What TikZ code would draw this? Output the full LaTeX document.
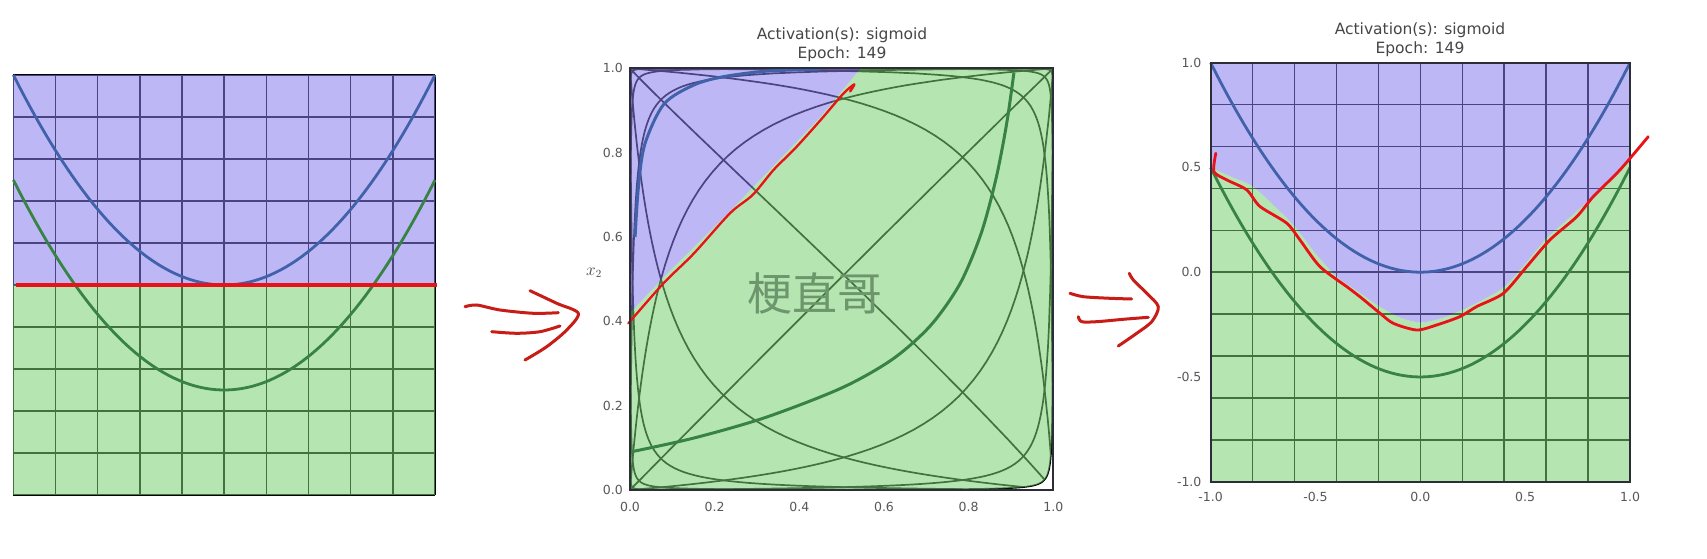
\documentclass[tikz,border=0pt]{standalone}
\usepackage{fontspec}
\setmainfont{DejaVu Sans}
\newfontfamily\cjk{Noto Sans CJK SC}
\definecolor{purp}{RGB}{136,127,237}
\definecolor{grn}{RGB}{122,210,115}
\definecolor{bluec}{RGB}{65,98,170}
\definecolor{grnc}{RGB}{55,130,68}
\definecolor{redl}{RGB}{232,18,24}
\definecolor{arrred}{RGB}{200,28,22}
\definecolor{txt}{RGB}{70,70,70}
\definecolor{wm}{RGB}{110,150,108}
\definecolor{frm}{RGB}{45,45,55}
\begin{document}
\begin{tikzpicture}[x=1pt,y=1pt,
  declare function={sg(\z)=1/(1+exp(-max(-9,min(9,\z))));
    ha(\p,\q)=sg(-2.54+6.4*\p-6.4*\q);
    hb(\p,\q)=sg(2.52+6.4*\p+6.2*\q);},
  gridl/.style={black,line width=1.5pt},
  warp/.style={black,line width=1.7pt},
  pfill/.style={fill=purp,fill opacity=.55},
  gfill/.style={fill=grn,fill opacity=.55},
  bcurve/.style={bluec,line width=2.8pt},
  gcurve/.style={grnc,line width=2.8pt},
  redpen/.style={redl,line width=2.8pt,line cap=round,line join=round},
  arrpen/.style={arrred,line width=3pt,line cap=round,line join=round},
  frame/.style={frm,line width=2.2pt},
  ttl/.style={text=txt,font=\fontsize{15.5}{16}\selectfont,inner sep=0pt},
  tick/.style={text=txt!90,font=\fontsize{12.5}{13}\selectfont,inner sep=0pt}]
\fill[white] (0,0) rectangle (1707,559);
\useasboundingbox (0,0) rectangle (1707,559);

% ---------------- panel 1 ----------------
\begin{scope}[shift={(224.2,274)},xscale=210.8,yscale=210]
  \foreach \k in {-1,-0.8,-0.6,-0.4,-0.2,0,0.2,0.4,0.6,0.8,1} {
    \draw[gridl] (\k,-1) -- (\k,1);
    \draw[gridl] (-1,\k) -- (1,\k);
  }
  \fill[pfill] (-1,0) rectangle (1,1);
  \fill[gfill] (-1,-1) rectangle (1,0);
  \draw[bcurve] plot[domain=-1:1,samples=80] (\x,{\x*\x});
  \draw[gcurve] plot[domain=-1:1,samples=80] (\x,{\x*\x-0.5});
  \draw[redl,line width=4.5pt] (-0.99,0) -- (1.01,0);
\end{scope}

% ---------------- arrow 1 ----------------
\draw[arrpen] plot[smooth] coordinates {(465,252.3) (476.7,254) (500,249) (533.3,245.7) (558.3,246.3)};
\draw[arrpen] plot[smooth] coordinates {(491.7,227.3) (516.7,225.7) (540,227.3) (560,233)};
\draw[arrpen] plot[smooth] coordinates {(530,268.3) (556.7,255.7) (578.3,245.7) (566.7,229) (546.7,212.3) (525,199)};

% ---------------- panel 2 ----------------
\node[ttl] (t2a) at (842,524) {Activation(s): sigmoid};
\node[ttl] (t2b) at (842,504.7) {Epoch: 149};
\begin{scope}[shift={(630,69)},xscale=423.3,yscale=421.7]
  \begin{scope}
    \clip (0,0) rectangle (1,1);
    \foreach \c in {-1,-0.8,-0.6,-0.4,-0.2,0,0.2,0.4,0.6,0.8,1} {
      \draw[warp] plot[domain=-1:1,samples=120,variable=\t] ({ha(\c,\t)},{hb(\c,\t)});
      \draw[warp] plot[domain=-1:1,samples=120,variable=\t] ({ha(\t,\c)},{hb(\t,\c)});
    }
  \end{scope}
  \fill[pfill] (0,0.42) -- (0.08,0.505) -- (0.24,0.665) -- (0.34,0.77) -- (0.45,0.885) -- (0.545,1) -- (0,1) -- cycle;
  \begin{scope}
    \clip (0,0.42) -- (0.08,0.505) -- (0.24,0.665) -- (0.34,0.77) -- (0.45,0.885) -- (0.545,1) -- (0.545,1.05) -- (1.05,1.05) -- (1.05,-0.05) -- (-0.05,-0.05) -- (-0.05,0.42) -- cycle;
    \path[gfill] plot[domain=-1:1,samples=80,variable=\t] ({ha(\t,-1)},{hb(\t,-1)})
      -- plot[domain=-1:1,samples=80,variable=\t] ({ha(1,\t)},{hb(1,\t)})
      -- plot[domain=1:-1,samples=80,variable=\t] ({ha(\t,1)},{hb(\t,1)})
      -- plot[domain=1:-1,samples=80,variable=\t] ({ha(-1,\t)},{hb(-1,\t)}) -- cycle;
  \end{scope}
  \draw[bluec,line width=3pt] plot[smooth] coordinates {(0.012,0.6) (0.02,0.72) (0.035,0.82) (0.08,0.915) (0.15,0.96) (0.22,0.98) (0.32,0.993) (0.45,0.998)};
  \draw[grnc,line width=3pt] plot[smooth] coordinates {(0.0,0.09) (0.15,0.123) (0.32,0.172) (0.5,0.242) (0.62,0.31) (0.71,0.39) (0.78,0.49) (0.83,0.61) (0.865,0.74) (0.89,0.87) (0.907,0.99)};
  \draw[redpen,line width=2.3pt] plot[smooth] coordinates {(-0.004,0.395) (0.079,0.49) (0.15,0.56) (0.236,0.656) (0.29,0.70) (0.34,0.76) (0.39,0.81) (0.45,0.877) (0.504,0.94) (0.53,0.962) (0.52,0.945)};
  \draw[frame] (0,0) rectangle (1,1);
  \foreach \v [count=\i] in {0.0,0.2,0.4,0.6,0.8,1.0} {
    \node[tick,anchor=east,xshift=-7pt] (y2l\i) at (0,\v) {\v};
    \node[tick,yshift=-17pt] (x2l\i) at (\v,0) {\v};
  }
  \node[text=txt,font=\fontsize{16}{16}\selectfont,inner sep=0pt,xshift=-36pt] (x2lab) at (0,0.515) {$x_2$};
\end{scope}
\node[text=wm,font=\cjk\fontsize{45}{45}\selectfont,inner sep=0pt] (wmark) at (815,266) {梗直哥};

% ---------------- arrow 2 ----------------
\draw[arrpen] plot[smooth] coordinates {(1070,265.7) (1083.3,262.3) (1110,260.7) (1131.7,260)};
\draw[arrpen] plot[smooth] coordinates {(1078.3,242.3) (1081.7,237.3) (1096.7,237.3) (1123.3,239.7) (1148.3,241.7)};
\draw[arrpen] plot[smooth] coordinates {(1129.3,285.7) (1133.3,279) (1146.7,265.7) (1158.3,252.3) (1151.7,237.3) (1136.7,225.7) (1118.3,213)};

% ---------------- panel 3 ----------------
\node[ttl] (t3a) at (1420,529) {Activation(s): sigmoid};
\node[ttl] (t3b) at (1420,509.7) {Epoch: 149};
\begin{scope}[shift={(1420.3,286.8)},xscale=209.7,yscale=209.5]
  \foreach \k in {-1,-0.8,-0.6,-0.4,-0.2,0,0.2,0.4,0.6,0.8,1} {
    \draw[gridl] (\k,-1) -- (\k,1);
    \draw[gridl] (-1,\k) -- (1,\k);
  }
  \fill[pfill] (-1,1) -- (-1,0.5) -- plot[smooth] coordinates {(-1,0.5) (-0.9,0.455) (-0.8,0.41) (-0.7,0.32) (-0.6,0.22) (-0.5,0.09) (-0.4,-0.02) (-0.3,-0.09) (-0.2,-0.16) (-0.1,-0.215) (0,-0.24) (0.1,-0.22) (0.2,-0.18) (0.3,-0.13) (0.4,-0.07) (0.5,0.04) (0.6,0.16) (0.7,0.25) (0.8,0.34) (0.9,0.44) (1,0.54)} -- (1,1) -- cycle;
  \fill[gfill] (-1,-1) -- (-1,0.5) -- plot[smooth] coordinates {(-1,0.5) (-0.9,0.455) (-0.8,0.41) (-0.7,0.32) (-0.6,0.22) (-0.5,0.09) (-0.4,-0.02) (-0.3,-0.09) (-0.2,-0.16) (-0.1,-0.215) (0,-0.24) (0.1,-0.22) (0.2,-0.18) (0.3,-0.13) (0.4,-0.07) (0.5,0.04) (0.6,0.16) (0.7,0.25) (0.8,0.34) (0.9,0.44) (1,0.54)} -- (1,-1) -- cycle;
  \draw[bcurve] plot[domain=-1:1,samples=80] (\x,{\x*\x});
  \draw[gcurve] plot[domain=-1:1,samples=80] (\x,{\x*\x-0.5});
  \draw[frame] (-1,-1) rectangle (1,1);
  \draw[redpen] plot[smooth,tension=0.45] coordinates {(-0.975,0.568) (-0.984,0.480) (-0.924,0.441) (-0.828,0.393) (-0.765,0.314) (-0.637,0.234) (-0.574,0.154) (-0.479,0.027) (-0.351,-0.069) (-0.288,-0.117) (-0.192,-0.196) (-0.129,-0.244) (-0.017,-0.276) (0.078,-0.252) (0.189,-0.212) (0.269,-0.164) (0.396,-0.101) (0.507,0.026) (0.618,0.154) (0.746,0.265) (0.825,0.361) (0.952,0.488) (1.087,0.647)};
  \foreach \v [count=\i] in {-1.0,-0.5,0.0,0.5,1.0} {
    \node[tick,anchor=east,xshift=-9pt] (y3l\i) at (-1,\v) {\v};
    \node[tick,yshift=-15pt] (x3l\i) at (\v,-1) {\v};
  }
\end{scope}
\end{tikzpicture}
\end{document}
